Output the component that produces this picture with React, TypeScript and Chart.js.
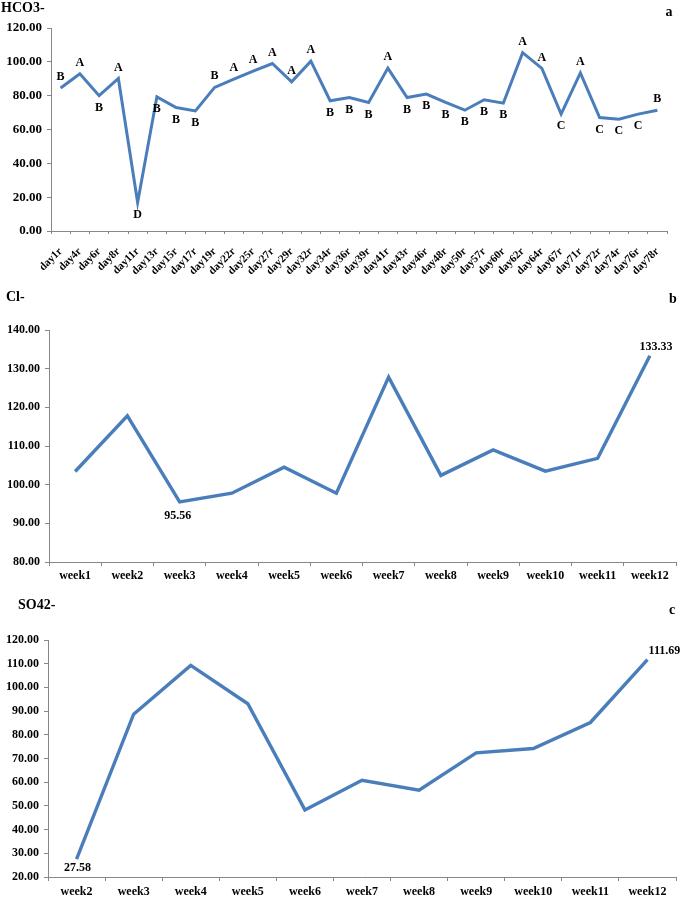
import React, { useEffect, useRef } from "react";
import { Chart, registerables } from "chart.js";

Chart.register(...registerables);

// ---------- DATA ----------
const hco3Days = [
  "day1r", "day4r", "day6r", "day8r", "day11r", "day13r", "day15r", "day17r",
  "day19r", "day22r", "day25r", "day27r", "day29r", "day32r", "day34r", "day36r",
  "day39r", "day41r", "day43r", "day46r", "day48r", "day50r", "day57r", "day60r",
  "day62r", "day64r", "day67r", "day71r", "day72r", "day74r", "day76r", "day78r",
];
const hco3Values = [
  84.5, 93.0, 80.0, 90.2, 16.8, 79.3, 73.0, 71.0,
  84.9, 89.8, 94.5, 99.0, 88.2, 100.4, 77.0, 78.9,
  76.0, 96.3, 78.9, 80.9, 76.0, 71.4, 77.6, 75.6,
  105.4, 96.1, 69.1, 93.5, 67.1, 66.1, 69.1, 71.4,
];
const hco3Letters = [
  "B", "A", "B", "A", "D", "B", "B", "B",
  "B", "A", "A", "A", "A", "A", "B", "B",
  "B", "A", "B", "B", "B", "B", "B", "B",
  "A", "A", "C", "A", "C", "C", "C", "B",
];
const hco3LetterSide = [
  "up", "up", "down", "up", "down", "down", "down", "down",
  "up", "up", "up", "up", "up", "up", "down", "down",
  "down", "up", "down", "down", "down", "down", "down", "down",
  "up", "up", "down", "up", "down", "down", "down", "up",
];

const clWeeks = ["week1", "week2", "week3", "week4", "week5", "week6", "week7", "week8", "week9", "week10", "week11", "week12"];
const clValues = [103.4, 117.8, 95.56, 97.8, 104.5, 97.8, 127.8, 102.4, 109.0, 103.5, 106.8, 133.33];

const so4Weeks = ["week2", "week3", "week4", "week5", "week6", "week7", "week8", "week9", "week10", "week11", "week12"];
const so4Values = [27.58, 88.7, 109.3, 93.1, 48.3, 60.8, 56.6, 72.4, 74.2, 85.2, 111.69];

// ---------- STYLE ----------
const FONT = '"Liberation Serif", "Times New Roman", serif';
const LINE = "#4A7EBB";
const AXIS = "#878787";

const annotPlugin = {
  id: "annot",
  afterDatasetsDraw(chart: any, _args: any, opts: any) {
    const ctx = chart.ctx;
    ctx.save();
    ctx.fillStyle = "#000";
    ctx.textBaseline = "middle";
    for (const t of opts.texts || []) {
      ctx.font = `bold ${t.size}px ${FONT}`;
      ctx.textAlign = t.align || "left";
      ctx.fillText(t.text, t.x, t.y);
    }
    const meta = chart.getDatasetMeta(0);
    for (const l of opts.pointLabels || []) {
      const p = meta.data[l.i];
      if (!p) continue;
      ctx.font = `bold ${l.size}px ${FONT}`;
      ctx.textAlign = "center";
      ctx.fillText(l.text, p.x + (l.dx || 0), p.y + (l.dy || 0));
    }
    ctx.restore();
  },
};

function makeConfig(p: any): any {
  return {
    type: "line",
    data: {
      labels: p.labels,
      datasets: [
        {
          data: p.values,
          borderColor: LINE,
          backgroundColor: LINE,
          borderWidth: p.lineWidth,
          pointRadius: 0,
          tension: 0,
          fill: false,
        },
      ],
    },
    plugins: [annotPlugin],
    options: {
      responsive: false,
      maintainAspectRatio: false,
      animation: false,
      events: [],
      layout: { padding: { top: p.padTop, right: p.padRight, left: 0, bottom: 0 } },
      plugins: {
        legend: { display: false },
        tooltip: { enabled: false },
        title: { display: false },
        annot: { texts: p.texts, pointLabels: p.pointLabels },
      },
      scales: {
        x: {
          type: "category",
          offset: true,
          grid: {
            display: true,
            offset: true,
            drawOnChartArea: false,
            drawTicks: true,
            tickLength: p.xTickLen,
            color: AXIS,
          },
          border: { display: true, color: AXIS, width: 1 },
          ticks: {
            autoSkip: false,
            minRotation: p.rotation,
            maxRotation: p.rotation,
            padding: p.xPad,
            color: "#000",
            font: { family: FONT, size: p.xFont, weight: "bold" },
          },
          afterFit: (s: any) => {
            s.height = p.xHeight;
          },
        },
        y: {
          min: p.min,
          max: p.max,
          grid: {
            display: true,
            drawOnChartArea: false,
            drawTicks: true,
            tickLength: 4,
            color: AXIS,
          },
          border: { display: true, color: AXIS, width: 1 },
          ticks: {
            stepSize: p.step,
            padding: 5,
            color: "#000",
            font: { family: FONT, size: p.yFont, weight: "bold" },
            callback: (v: any) => Number(v).toFixed(2),
          },
          afterFit: (s: any) => {
            s.width = p.yWidth;
          },
        },
      },
    },
  };
}

function Panel({ top, height, config }: { top: number; height: number; config: any }) {
  const ref = useRef<HTMLCanvasElement | null>(null);
  useEffect(() => {
    if (!ref.current) return;
    const chart = new Chart(ref.current, config);
    return () => chart.destroy();
  }, []);
  return (
    <canvas
      ref={ref}
      width={685}
      height={height}
      style={{ position: "absolute", left: 0, top, width: 685, height }}
    />
  );
}

const configA = makeConfig({
  labels: hco3Days,
  values: hco3Values,
  lineWidth: 3,
  min: 0,
  max: 120,
  step: 20,
  padTop: 28,
  padRight: 18,
  yWidth: 51,
  xHeight: 280 - 231,
  xTickLen: 3,
  xPad: 11,
  rotation: 45,
  xFont: 11,
  yFont: 13,
  texts: [
    { text: "HCO3-", x: 1, y: 8, size: 14 },
    { text: "a", x: 669, y: 12, size: 14, align: "center" },
  ],
  pointLabels: hco3Letters.map((t, i) => ({
    i,
    text: t,
    size: 12,
    dx: 0,
    dy: hco3LetterSide[i] === "up" ? -11 : 12,
  })),
});

const configB = makeConfig({
  labels: clWeeks,
  values: clValues,
  lineWidth: 3.4,
  min: 80,
  max: 140,
  step: 10,
  padTop: 50,
  padRight: 9,
  yWidth: 49,
  xHeight: 590 - 562,
  xTickLen: 4,
  xPad: 3,
  rotation: 0,
  xFont: 12,
  yFont: 12,
  texts: [
    { text: "Cl-", x: 6, y: 17, size: 14 },
    { text: "b", x: 673, y: 19, size: 14, align: "center" },
  ],
  pointLabels: [
    { i: 2, text: clValues[2].toFixed(2), size: 12, dx: -2, dy: 14 },
    { i: 11, text: clValues[11].toFixed(2), size: 12, dx: 6, dy: -9 },
  ],
});

const configC = makeConfig({
  labels: so4Weeks,
  values: so4Values,
  lineWidth: 3.4,
  min: 20,
  max: 120,
  step: 10,
  padTop: 50,
  padRight: 9,
  yWidth: 48,
  xHeight: 899 - 877,
  xTickLen: 4,
  xPad: 4,
  rotation: 0,
  xFont: 12,
  yFont: 12,
  texts: [
    { text: "SO42-", x: 18, y: 15, size: 14 },
    { text: "c", x: 672, y: 20, size: 14, align: "center" },
  ],
  pointLabels: [
    { i: 0, text: so4Values[0].toFixed(2), size: 12, dx: 1, dy: 9 },
    { i: 10, text: so4Values[10].toFixed(2), size: 12, dx: 17, dy: -9 },
  ],
});

export default function App() {
  return (
    <div
      style={{
        position: "absolute",
        left: 0,
        top: 0,
        width: 685,
        height: 899,
        background: "#fff",
        overflow: "hidden",
      }}
    >
      <Panel top={0} height={280} config={configA} />
      <Panel top={280} height={310} config={configB} />
      <Panel top={590} height={309} config={configC} />
    </div>
  );
}
